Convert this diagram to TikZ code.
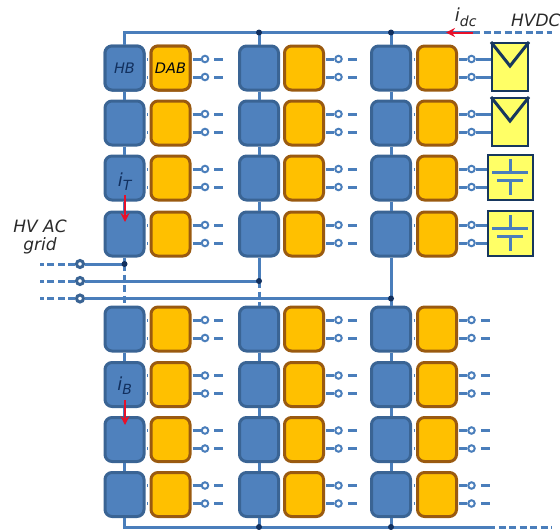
\documentclass[tikz,border=0pt]{standalone}
\usepackage{fontspec}
\setmainfont{DejaVu Sans}
\usetikzlibrary{arrows.meta}
\definecolor{busblue}{HTML}{4A7EBB}
\definecolor{hbfill}{HTML}{4F81BD}
\definecolor{hbedge}{HTML}{3A6494}
\definecolor{dabfill}{HTML}{FFC000}
\definecolor{dabedge}{HTML}{9A5A10}
\definecolor{navy}{HTML}{12305E}
\definecolor{srcfill}{HTML}{FFFF66}
\definecolor{srcedge}{HTML}{17375E}
\definecolor{tagtext}{HTML}{2A2A2A}
\definecolor{curred}{HTML}{E8102A}
\tikzset{
  hbbox/.style={draw=hbedge,fill=hbfill,line width=3pt,rounded corners=7pt,minimum width=39pt,minimum height=44pt,inner sep=0pt,font=\itshape\fontsize{14.5}{14.5}\selectfont,text=navy},
  dabbox/.style={draw=dabedge,fill=dabfill,line width=3pt,rounded corners=7pt,minimum width=39pt,minimum height=44pt,inner sep=0pt,font=\itshape\fontsize{14.5}{14.5}\selectfont,text=black!85!navy},
  busline/.style={draw=busblue,line width=3pt},
  thinlink/.style={draw=busblue,line width=3pt},
  dashline/.style={draw=busblue,line width=3pt,dash pattern=on 7pt off 3.5pt},
  stub/.style={draw=busblue,line width=3pt},
  term/.style={circle,draw=busblue,fill=white,line width=2pt,minimum size=6.5pt,inner sep=0pt},
  gridterm/.style={circle,draw=hbedge,fill=white,line width=3pt,minimum size=7pt,inner sep=0pt},
  junction/.style={circle,fill=navy,minimum size=6pt,inner sep=0pt},
  srcbox/.style={draw=srcedge,fill=srcfill,line width=2pt,inner sep=0pt},
  srcmark/.style={draw=srcedge,line width=3pt},
  capmark/.style={draw=busblue,line width=3pt},
  curarrow/.style={draw=curred,line width=2pt,-{Stealth[length=9pt,width=9pt]}},
  tag/.style={font=\itshape\fontsize{17}{19}\selectfont,text=tagtext,inner sep=0pt,align=center},
  innertag/.style={font=\itshape\fontsize{18}{18}\selectfont,text=navy,inner sep=0pt},
}
\newcommand{\subtag}[1]{\textsubscript{\fontsize{14}{14}\selectfont #1}}
\begin{document}
\begin{tikzpicture}[x=1pt,y=-1pt]
\useasboundingbox (0,0) rectangle (560,530);
% bus coordinates
\coordinate (topstart) at (124.5,32.5);
\coordinate (topj2) at (259,32.5);
\coordinate (topj3) at (391,32.5);
\coordinate (topsolid) at (473,32.5);
\coordinate (topend) at (552,32.5);
\coordinate (botstart) at (124.5,527);
\coordinate (botj2) at (259,527);
\coordinate (botj3) at (391,527);
\coordinate (botsolid) at (488,527);
\coordinate (botend) at (552,527);
\foreach \c/\hx/\dx in {1/124.5/170.5,2/259/304,3/391/437}{
  \foreach \r/\ry in {1/68,2/123,3/178,4/234,5/329,6/384.5,7/439.5,8/494.5}{
    \node[hbbox] (hb-\c-\r) at (\hx,\ry) {};
    \node[dabbox] (dab-\c-\r) at (\dx,\ry) {};
  }
}
\node[hbbox] (hblabel) at (hb-1-1) {HB};
\node[dabbox] (dablabel) at (dab-1-1) {DAB};
% sources
\node[srcbox,minimum width=36pt,minimum height=48pt] (pv1) at (510,67) {};
\node[srcbox,minimum width=36pt,minimum height=48pt] (pv2) at (510,122) {};
\node[srcbox,minimum width=45pt,minimum height=45pt] (cap1) at (510,177) {};
\node[srcbox,minimum width=45pt,minimum height=45pt] (cap2) at (510,233) {};
\draw[srcmark] (pv1.north west) -- ([yshift=-24pt]pv1.north) -- (pv1.north east);
\draw[srcmark] (pv2.north west) -- ([yshift=-24pt]pv2.north) -- (pv2.north east);
\foreach \n in {cap1,cap2}{
  \draw[capmark] ([yshift=18pt]\n.center) -- ([yshift=5pt]\n.center);
  \draw[capmark] ([xshift=-18pt,yshift=5pt]\n.center) -- ([xshift=18pt,yshift=5pt]\n.center);
  \draw[capmark] ([xshift=-13pt,yshift=-3pt]\n.center) -- ([xshift=13pt,yshift=-3pt]\n.center);
  \draw[capmark] ([yshift=-3pt]\n.center) -- ([yshift=-18pt]\n.center);
}
% terminals and HB-DAB links
\foreach \c in {1,2,3}{
  \foreach \r in {1,...,8}{
    \draw[thinlink] ([yshift=9pt,xshift=1.5pt]hb-\c-\r.east) -- ([yshift=9pt,xshift=-1.5pt]dab-\c-\r.west);
    \draw[thinlink] ([yshift=-9pt,xshift=1.5pt]hb-\c-\r.east) -- ([yshift=-9pt,xshift=-1.5pt]dab-\c-\r.west);
    \node[term] (ta-\c-\r) at ([xshift=13.5pt,yshift=9pt]dab-\c-\r.east) {};
    \node[term] (tb-\c-\r) at ([xshift=13.5pt,yshift=-9pt]dab-\c-\r.east) {};
    \draw[thinlink] ([yshift=9pt,xshift=1pt]dab-\c-\r.east) -- (ta-\c-\r);
    \draw[thinlink] ([yshift=-9pt,xshift=1pt]dab-\c-\r.east) -- (tb-\c-\r);
  }
}
% output stubs
\foreach \c/\rows in {1/{1,...,8},2/{1,...,8},3/{5,...,8}}{
  \foreach \r in \rows{
    \draw[stub] ([xshift=5pt]ta-\c-\r.east) -- ([xshift=14pt]ta-\c-\r.east);
    \draw[stub] ([xshift=5pt]tb-\c-\r.east) -- ([xshift=14pt]tb-\c-\r.east);
  }
}
\foreach \r/\s in {1/pv1,2/pv2,3/cap1,4/cap2}{
  \draw[thinlink] (ta-3-\r.east) -- (ta-3-\r.east -| \s.west);
  \draw[thinlink] (tb-3-\r.east) -- (tb-3-\r.east -| \s.west);
}
% buses
\draw[busline] (hb-1-1.north) -- (topstart) -- (topsolid);
\draw[dashline] (topsolid) -- (topend);
\draw[busline] (topj2) -- (hb-2-1.north);
\draw[busline] (topj3) -- (hb-3-1.north);
\draw[busline] (hb-1-8.south) -- (botstart) -- (botsolid);
\draw[dashline] (botsolid) -- (botend);
\draw[busline] (hb-2-8.south) -- (botj2);
\draw[busline] (hb-3-8.south) -- (botj3);
\foreach \c in {1,2,3}{
  \foreach \a/\b in {1/2,2/3,3/4,5/6,6/7,7/8}{
    \draw[busline] (hb-\c-\a.south) -- (hb-\c-\b.north);
  }
}
% AC grid
\node[gridterm] (g1) at (80,264) {};
\node[gridterm] (g2) at (80,281) {};
\node[gridterm] (g3) at (80,298.5) {};
\coordinate (g1far) at (40,264);
\coordinate (g2far) at (40,281);
\coordinate (g3far) at (40,298.5);
\coordinate (ac1) at (124.5,264);
\coordinate (ac2) at (259,281);
\coordinate (ac3) at (391,298.5);
\draw[busline] (g1) -- (ac1);
\draw[busline] (g2) -- (ac2);
\draw[busline] (g3) -- (ac3);
\draw[dashline] (g1.west) -- (g1far);
\draw[dashline] (g2.west) -- (g2far);
\draw[dashline] (g3.west) -- (g3far);
\draw[busline] (hb-1-4.south) -- (ac1);
\draw[dashline] (ac1) -- (hb-1-5.north);
\draw[busline] (hb-2-4.south) -- (ac2);
\draw[dashline] (ac2) -- (hb-2-5.north);
\draw[busline] (hb-3-4.south) -- (ac3) -- (hb-3-5.north);
% junctions
\foreach \p [count=\i] in {topj2,topj3,botj2,botj3,ac1,ac2,ac3}{
  \node[junction] (jn\i) at (\p) {};
}
% currents
\coordinate (iTa) at (125,195);
\coordinate (iTb) at (125,222);
\coordinate (iBa) at (125,400);
\coordinate (iBb) at (125,425);
\coordinate (idca) at (473,32.5);
\coordinate (idcb) at (446,32.5);
\draw[curarrow] (iTa) -- (iTb);
\draw[curarrow] (iBa) -- (iBb);
\draw[curarrow] (idca) -- (idcb);
% labels
\node[innertag] (lT) at (125,182) {i\subtag{T}};
\node[innertag] (lB) at (125,386) {i\subtag{B}};
\node[tag,font=\itshape\fontsize{18}{18}\selectfont] (ldc) at (466,17) {i\subtag{dc}};
\node[tag,anchor=west] (lhvdc) at (511,20) {HVDC};
\node[tag] (lgrid) at (40,237) {HV AC\\[-1pt]grid};
\end{tikzpicture}
\end{document}
